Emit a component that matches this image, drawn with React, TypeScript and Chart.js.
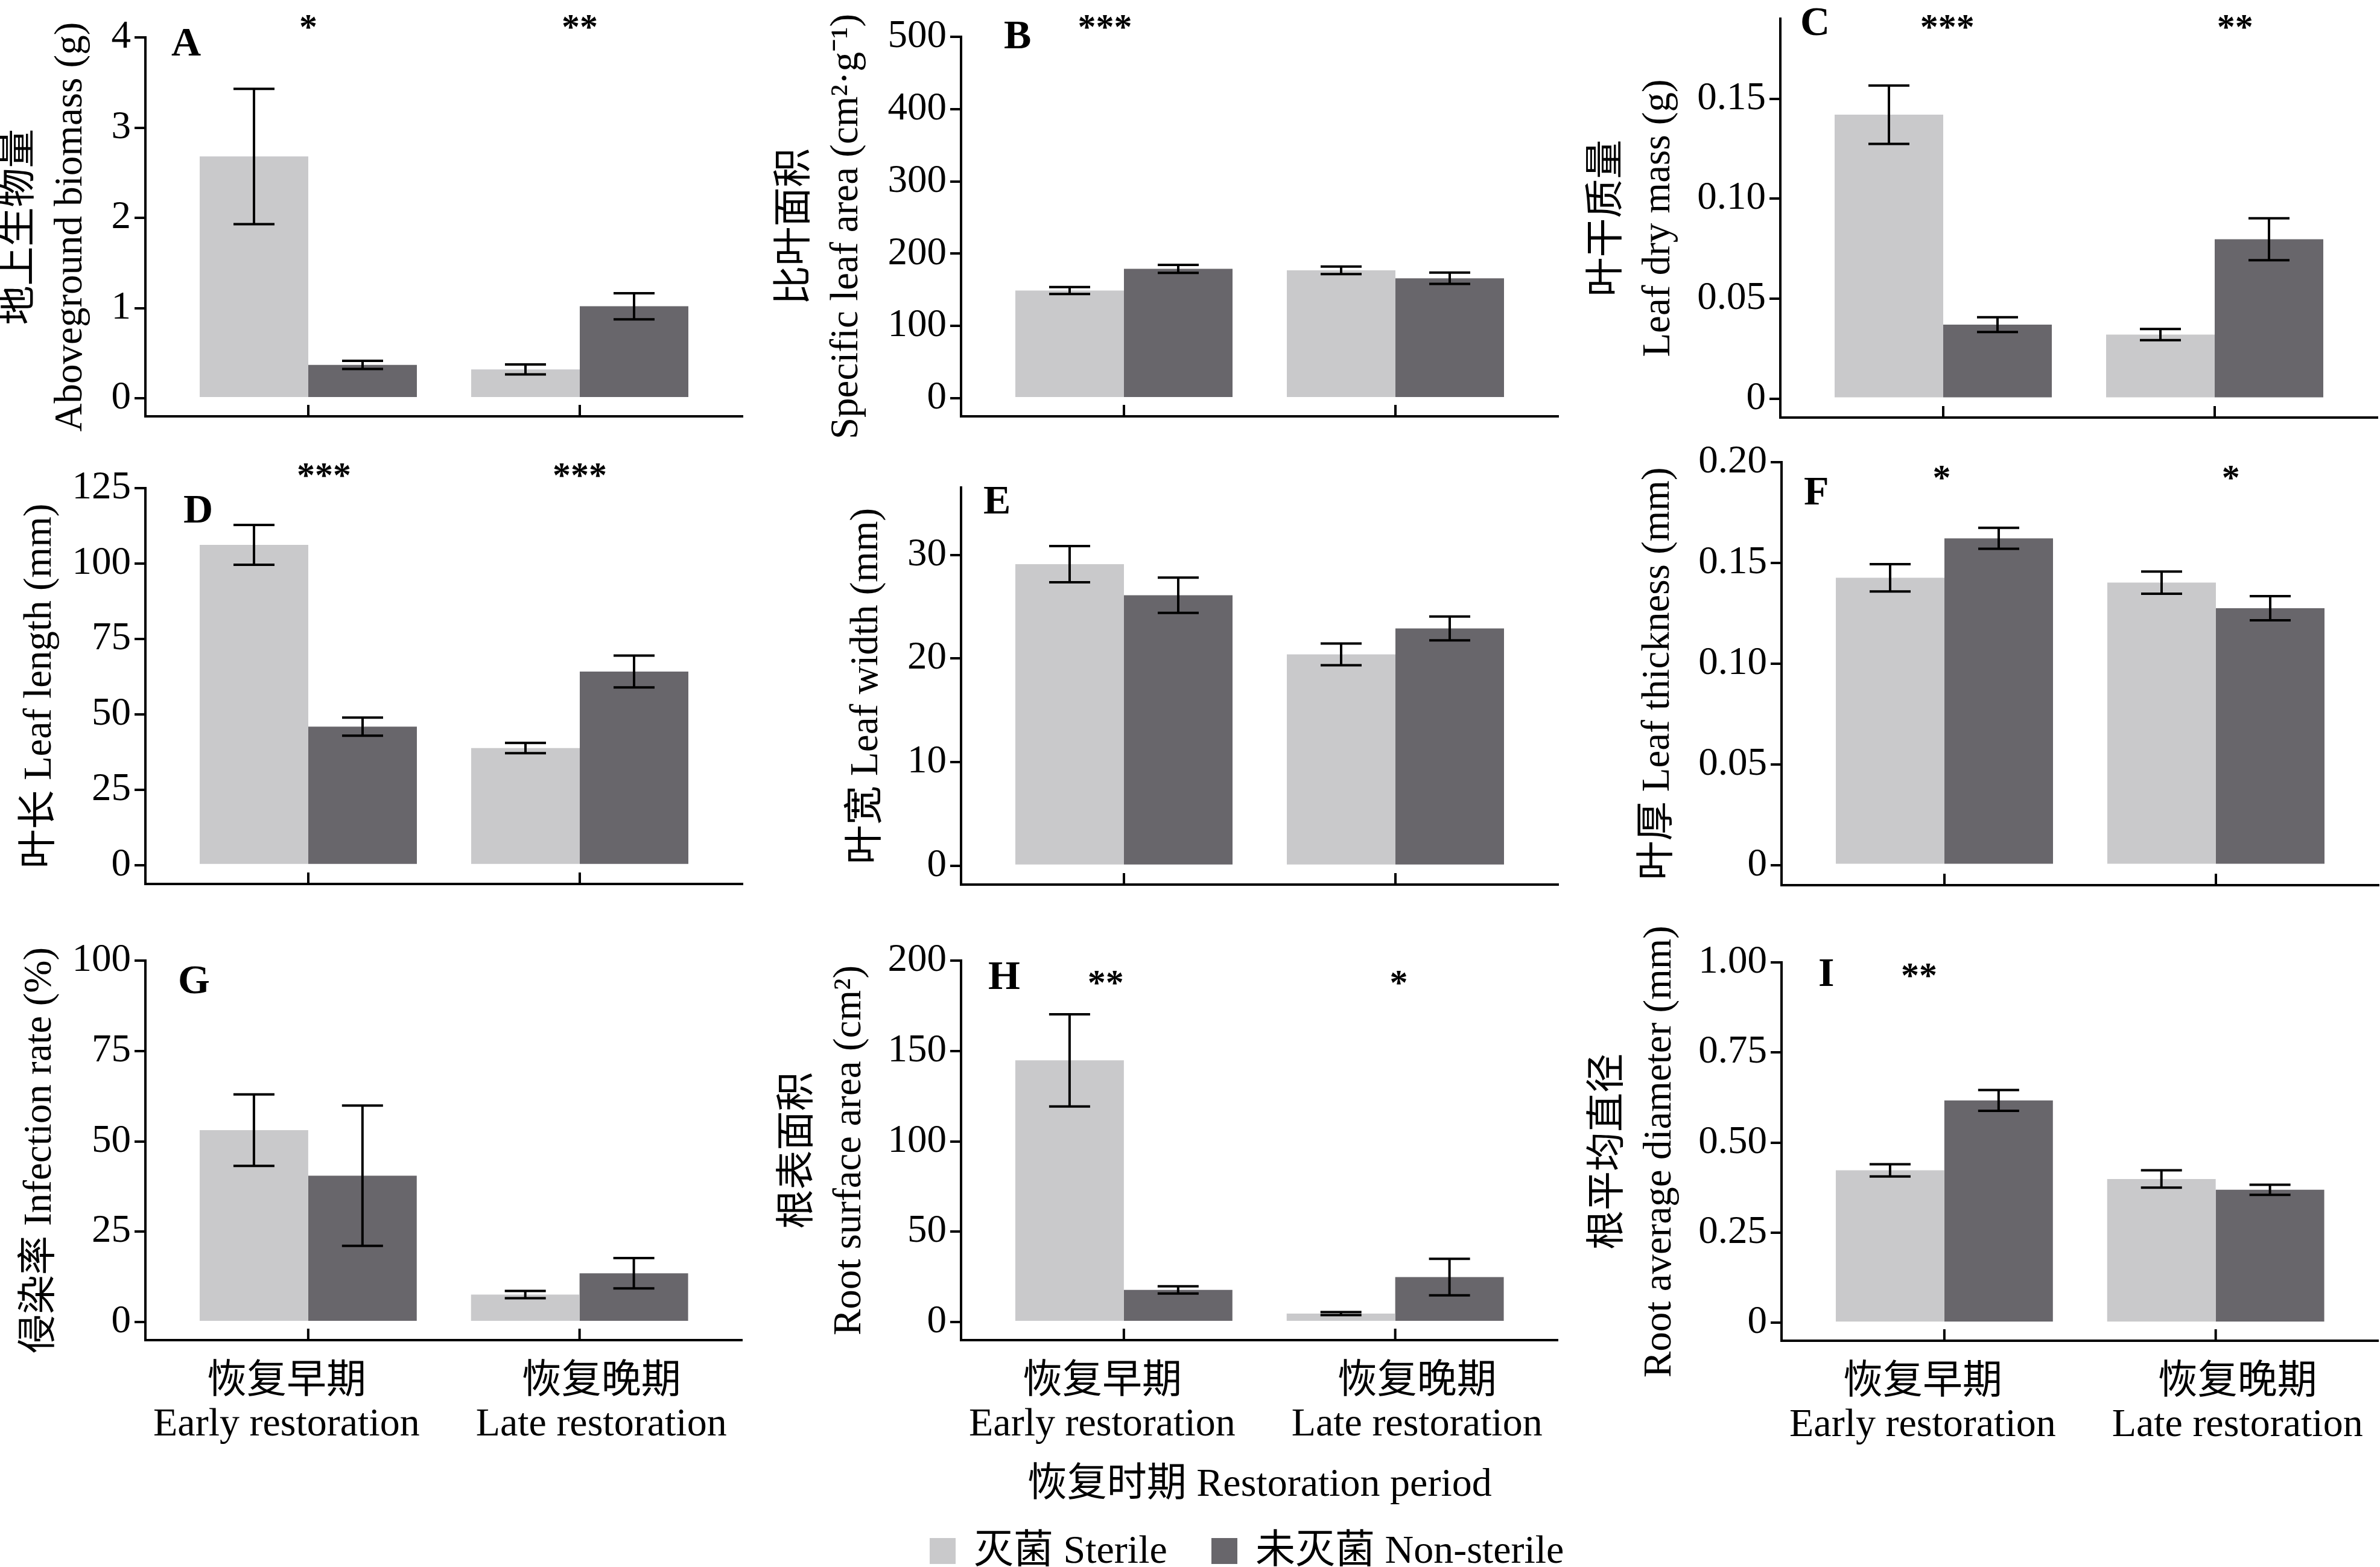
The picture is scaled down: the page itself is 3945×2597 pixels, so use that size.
import { useEffect, useRef } from 'react';
import { Chart, registerables } from 'chart.js';

Chart.register(...registerables);

const FONT = "'Liberation Serif', 'Noto Sans CJK SC', serif";
Chart.defaults.font.family = FONT;
Chart.defaults.color = '#000';

const STERILE = '#c9c9cb';
const NON_STERILE = '#68666b';

// categories / legend
const periodsZh = ['恢复早期', '恢复晚期'];
const periodsEn = ['Early restoration', 'Late restoration'];
const treatments = ['灭菌 Sterile', '未灭菌 Non-sterile'];
const xTitle = '恢复时期 Restoration period';

// A aboveground biomass
const biomassSterile = [2.68, 0.32];
const biomassSterileSe = [0.75, 0.055];
const biomassNon = [0.37, 1.02];
const biomassNonSe = [0.045, 0.145];
const biomassTicks = [0, 1, 2, 3, 4];
const biomassSig = ['*', '**'];

// B specific leaf area
const slaSterile = [149, 177];
const slaSterileSe = [4.8, 5.2];
const slaNon = [179, 166];
const slaNonSe = [5.5, 7.8];
const slaTicks = [0, 100, 200, 300, 400, 500];
const slaSig = ['***', ''];

// C leaf dry mass
const dryMassSterile = [0.142, 0.032];
const dryMassSterileSe = [0.0146, 0.0028];
const dryMassNon = [0.037, 0.0797];
const dryMassNonSe = [0.0037, 0.0105];
const dryMassTicks = [0, 0.05, 0.1, 0.15];
const dryMassSig = ['***', '**'];

// D leaf length
const lengthSterile = [106.2, 38.8];
const lengthSterileSe = [6.6, 1.7];
const lengthNon = [45.9, 64.2];
const lengthNonSe = [3.0, 5.3];
const lengthTicks = [0, 25, 50, 75, 100, 125];
const lengthSig = ['***', '***'];

// E leaf width
const widthSterile = [29.1, 20.4];
const widthSterileSe = [1.75, 1.05];
const widthNon = [26.1, 22.9];
const widthNonSe = [1.7, 1.15];
const widthTicks = [0, 10, 20, 30];
const widthSig = ['', ''];

// F leaf thickness
const thickSterile = [0.1426, 0.1402];
const thickSterileSe = [0.0068, 0.0055];
const thickNon = [0.1622, 0.1275];
const thickNonSe = [0.0052, 0.006];
const thickTicks = [0, 0.05, 0.1, 0.15, 0.2];
const thickSig = ['*', '*'];

// G infection rate
const infectSterile = [53.1, 7.6];
const infectSterileSe = [9.9, 1.0];
const infectNon = [40.5, 13.5];
const infectNonSe = [19.4, 4.2];
const infectTicks = [0, 25, 50, 75, 100];
const infectSig = ['', ''];

// H root surface area
const rootAreaSterile = [144.8, 4.7];
const rootAreaSterileSe = [25.5, 0.85];
const rootAreaNon = [17.8, 24.9];
const rootAreaNonSe = [2.0, 10.1];
const rootAreaTicks = [0, 50, 100, 150, 200];
const rootAreaSig = ['**', '*'];

// I root average diameter
const diamSterile = [0.423, 0.399];
const diamSterileSe = [0.017, 0.024];
const diamNon = [0.617, 0.369];
const diamNonSe = [0.029, 0.014];
const diamTicks = [0, 0.25, 0.5, 0.75, 1];
const diamSig = ['**', ''];

interface Panel {
  letter: string;
  title: string[];
  sterile: number[];
  sterileSe: number[];
  non: number[];
  nonSe: number[];
  ticks: number[];
  dec: number;
  max: number;
  sig: string[];
  sigShift: number[];
  sigDy: number;
  ax: number;
  top: number;
  axisY: number;
  yWidth: number;
  letterDx: number;
  letterDy: number;
  bottom?: boolean;
  xTitle?: string;
}

const PLOT_W = 990;
const PAD_TOP = 80;
const PAD_RIGHT = 10;
const LABEL_POS = [-0.08, 1.08];

const panels: Panel[] = [
  { letter: 'A', title: ['地上生物量', 'Aboveground biomass (g)'], sterile: biomassSterile, sterileSe: biomassSterileSe, non: biomassNon, nonSe: biomassNonSe, ticks: biomassTicks, dec: 0, max: 4, sig: biomassSig, sigShift: [0, 0], sigDy: -28, ax: 241, top: 62, axisY: 690, yWidth: 250, letterDx: 43, letterDy: 8 },
  { letter: 'B', title: ['比叶面积', 'Specific leaf area (cm²·g⁻¹)'], sterile: slaSterile, sterileSe: slaSterileSe, non: slaNon, nonSe: slaNonSe, ticks: slaTicks, dec: 0, max: 500, sig: slaSig, sigShift: [-0.07, 0], sigDy: -27, ax: 1593, top: 61, axisY: 690, yWidth: 316, letterDx: 71, letterDy: -3 },
  { letter: 'C', title: ['叶干质量', 'Leaf dry mass (g)'], sterile: dryMassSterile, sterileSe: dryMassSterileSe, non: dryMassNon, nonSe: dryMassNonSe, ticks: dryMassTicks, dec: 2, max: 0.19, sig: dryMassSig, sigShift: [0.015, 0.075], sigDy: 3, ax: 2951, top: 31, axisY: 692, yWidth: 328, letterDx: 33, letterDy: 5 },
  { letter: 'D', title: ['叶长 Leaf length (mm)'], sterile: lengthSterile, sterileSe: lengthSterileSe, non: lengthNon, nonSe: lengthNonSe, ticks: lengthTicks, dec: 0, max: 125, sig: lengthSig, sigShift: [0.058, 0], sigDy: -32, ax: 241, top: 809, axisY: 1465, yWidth: 216, letterDx: 63, letterDy: 35 },
  { letter: 'E', title: ['叶宽 Leaf width (mm)'], sterile: widthSterile, sterileSe: widthSterileSe, non: widthNon, nonSe: widthNonSe, ticks: widthTicks, dec: 0, max: 36.5, sig: widthSig, sigShift: [0, 0], sigDy: 0, ax: 1593, top: 808, axisY: 1466, yWidth: 198, letterDx: 37, letterDy: 21 },
  { letter: 'F', title: ['叶厚 Leaf thickness (mm)'], sterile: thickSterile, sterileSe: thickSterileSe, non: thickNon, nonSe: thickNonSe, ticks: thickTicks, dec: 2, max: 0.2, sig: thickSig, sigShift: [-0.01, 0.055], sigDy: 15, ax: 2953, top: 766, axisY: 1467, yWidth: 246, letterDx: 37, letterDy: 48 },
  { letter: 'G', title: ['侵染率 Infection rate (%)'], sterile: infectSterile, sterileSe: infectSterileSe, non: infectNon, nonSe: infectNonSe, ticks: infectTicks, dec: 0, max: 100, sig: infectSig, sigShift: [0, 0], sigDy: 0, ax: 241, top: 1592, axisY: 2221, yWidth: 216, letterDx: 54, letterDy: 32, bottom: true },
  { letter: 'H', title: ['根表面积', 'Root surface area (cm²)'], sterile: rootAreaSterile, sterileSe: rootAreaSterileSe, non: rootAreaNon, nonSe: rootAreaNonSe, ticks: rootAreaTicks, dec: 0, max: 200, sig: rootAreaSig, sigShift: [-0.067, 0.013], sigDy: 26, ax: 1593, top: 1592, axisY: 2221, yWidth: 311, letterDx: 45, letterDy: 25, bottom: true, xTitle },
  { letter: 'I', title: ['根平均直径', 'Root average diameter (mm)'], sterile: diamSterile, sterileSe: diamSterileSe, non: diamNon, nonSe: diamNonSe, ticks: diamTicks, dec: 2, max: 1, sig: diamSig, sigShift: [-0.093, 0], sigDy: 11, ax: 2953, top: 1595, axisY: 2222, yWidth: 328, letterDx: 61, letterDy: 17, bottom: true },
];

const fmt = (v: number, dec: number) => (v === 0 ? '0' : v.toFixed(dec));

function PanelChart({ p }: { p: Panel }) {
  const canvasRef = useRef<HTMLCanvasElement>(null);
  const xH = p.xTitle ? 280 : p.bottom ? 180 : 50;
  const width = p.yWidth + PLOT_W + PAD_RIGHT;
  const height = PAD_TOP + (p.axisY - p.top) + xH;

  useEffect(() => {
    if (!canvasRef.current) return;

    const decor = {
      id: 'decor',
      afterDatasetsDraw(chart: Chart) {
        const { ctx, chartArea } = chart;
        const xs = chart.scales.x;
        const ys = chart.scales.y;
        ctx.save();
        ctx.strokeStyle = '#000';
        ctx.lineWidth = 4;
        // error bars
        [[p.sterile, p.sterileSe], [p.non, p.nonSe]].forEach(([vals, se], d) => {
          const meta = chart.getDatasetMeta(d);
          vals.forEach((v, i) => {
            const cx = meta.data[i].x;
            const y1 = ys.getPixelForValue(v + se[i]);
            const y2 = ys.getPixelForValue(v - se[i]);
            ctx.beginPath();
            ctx.moveTo(cx, y1);
            ctx.lineTo(cx, y2);
            ctx.moveTo(cx - 34, y1);
            ctx.lineTo(cx + 34, y1);
            ctx.moveTo(cx - 34, y2);
            ctx.lineTo(cx + 34, y2);
            ctx.stroke();
          });
        });
        // inward category ticks
        [0, 1].forEach((v) => {
          const px = xs.getPixelForValue(v);
          ctx.beginPath();
          ctx.moveTo(px, chartArea.bottom);
          ctx.lineTo(px, chartArea.bottom - 19);
          ctx.stroke();
        });
        // panel letter
        ctx.fillStyle = '#000';
        ctx.textAlign = 'left';
        ctx.textBaseline = 'alphabetic';
        ctx.font = `bold 68px ${FONT}`;
        ctx.fillText(p.letter, chartArea.left + p.letterDx, chartArea.top + p.letterDy + 22);
        // significance
        ctx.textAlign = 'center';
        ctx.font = `bold 60px ${FONT}`;
        p.sig.forEach((s, i) => {
          if (!s) return;
          ctx.fillText(s, xs.getPixelForValue(i + p.sigShift[i]), chartArea.top + p.sigDy + 30);
        });
        ctx.restore();
      },
    };

    const chart = new Chart(canvasRef.current, {
      type: 'bar',
      data: {
        datasets: [
          { label: treatments[0], data: p.sterile.map((v, i) => ({ x: i, y: v })), backgroundColor: STERILE, borderWidth: 0 },
          { label: treatments[1], data: p.non.map((v, i) => ({ x: i, y: v })), backgroundColor: NON_STERILE, borderWidth: 0 },
        ],
      },
      options: {
        animation: false,
        responsive: false,
        devicePixelRatio: 1,
        events: [],
        layout: { padding: { top: PAD_TOP, right: PAD_RIGHT, left: 0, bottom: 0 } },
        datasets: { bar: { categoryPercentage: 0.8, barPercentage: 1 } },
        plugins: { legend: { display: false }, tooltip: { enabled: false } },
        scales: {
          x: {
            type: 'linear',
            min: -0.6,
            max: 1.6,
            bounds: 'data',
            offset: false,
            afterBuildTicks: (s: any) => {
              s.ticks = LABEL_POS.map((v) => ({ value: v }));
            },
            afterFit: (s: any) => {
              s.height = xH;
            },
            grid: { display: false, drawTicks: false, offset: false },
            border: { display: true, color: '#000', width: 4 },
            ticks: {
              display: !!p.bottom,
              autoSkip: false,
              maxRotation: 0,
              minRotation: 0,
              padding: 34,
              color: '#000',
              font: { size: 66, lineHeight: 1.08 },
              callback: (_v: any, i: number) => [periodsZh[i], periodsEn[i]],
            },
            title: {
              display: !!p.xTitle,
              text: p.xTitle || '',
              color: '#000',
              font: { size: 66, lineHeight: 1.2 },
              padding: 0,
            },
          },
          y: {
            type: 'linear',
            min: -0.05 * p.max,
            max: p.max,
            bounds: 'data',
            afterBuildTicks: (s: any) => {
              s.ticks = p.ticks.map((v) => ({ value: v }));
            },
            afterFit: (s: any) => {
              s.width = p.yWidth;
            },
            grid: { display: true, drawOnChartArea: false, drawTicks: true, tickLength: 18, color: '#000', lineWidth: 4 },
            border: { display: true, color: '#000', width: 4 },
            ticks: {
              autoSkip: false,
              padding: 6,
              color: '#000',
              font: { size: 65 },
              callback: (_v: any, i: number) => fmt(p.ticks[i], p.dec),
            },
            title: {
              display: true,
              text: p.title,
              color: '#000',
              font: { size: 65, lineHeight: 1.3 },
              padding: 0,
            },
          },
        },
      },
      plugins: [decor],
    } as any);

    return () => chart.destroy();
  }, [p]);

  return (
    <canvas
      ref={canvasRef}
      width={width}
      height={height}
      style={{
        position: 'absolute',
        left: p.ax - p.yWidth,
        top: p.top - PAD_TOP,
        width,
        height,
      }}
    />
  );
}

export default function App() {
  const legendColors = [STERILE, NON_STERILE];
  const legendBox = [1541, 2008];
  const legendText = [1614, 2081];
  return (
    <div
      style={{
        position: 'absolute',
        left: 0,
        top: 0,
        width: 3945,
        height: 2597,
        background: '#fff',
        overflow: 'hidden',
        fontFamily: FONT,
      }}
    >
      {panels.map((p) => (
        <PanelChart key={p.letter} p={p} />
      ))}
      {treatments.map((t, i) => (
        <div key={t}>
          <div
            style={{
              position: 'absolute',
              left: legendBox[i],
              top: 2549,
              width: 43,
              height: 43,
              background: legendColors[i],
            }}
          />
          <div
            style={{
              position: 'absolute',
              left: legendText[i],
              top: 2528,
              fontSize: 66,
              lineHeight: '80px',
              whiteSpace: 'nowrap',
              color: '#000',
            }}
          >
            {t}
          </div>
        </div>
      ))}
    </div>
  );
}
